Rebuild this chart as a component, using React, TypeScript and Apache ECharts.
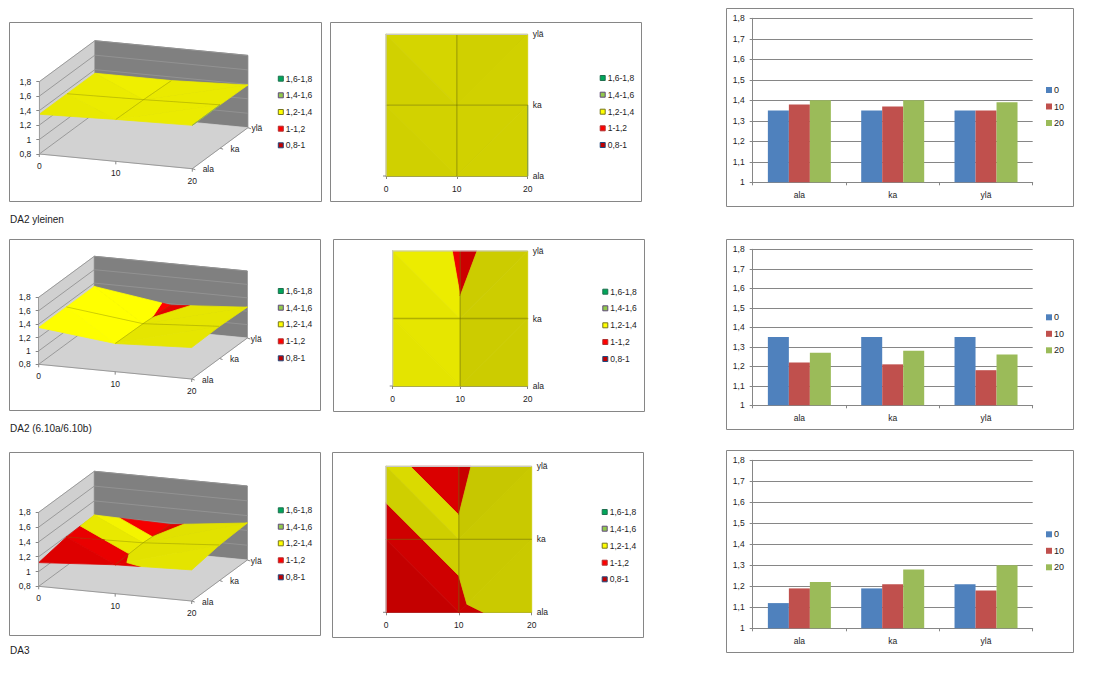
import React, { useEffect, useRef } from "react";
import * as echarts from "echarts";

const rowNames = ["ala", "ka", "ylä"];
const xTicks = [0, 10, 20];
const captions = ["DA2 yleinen", "DA2 (6.10a/6.10b)", "DA3"];
const bandNames = ["1,6-1,8", "1,4-1,6", "1,2-1,4", "1-1,2", "0,8-1"];
const bandLimits = [0.8, 1, 1.2, 1.4, 1.6, 1.8];
const seriesNames = ["0", "10", "20"];

// values per row (ala, ka, ylä) for load 0, 10, 20
const general0 = [1.35, 1.35, 1.35];
const general10 = [1.38, 1.37, 1.35];
const general20 = [1.4, 1.4, 1.39];
const fig610_0 = [1.35, 1.35, 1.35];
const fig610_10 = [1.22, 1.21, 1.18];
const fig610_20 = [1.27, 1.28, 1.26];
const da3_0 = [1.12, 1.19, 1.21];
const da3_10 = [1.19, 1.21, 1.18];
const da3_20 = [1.22, 1.28, 1.3];

const tables = [
  [general0, general10, general20],
  [fig610_0, fig610_10, fig610_20],
  [da3_0, da3_10, da3_20],
];

const FONT = "'Liberation Sans', Arial, sans-serif";
const TXT = "#1c1c24";
const FRAME = "#868686";
const barColors = ["#4F81BD", "#C0504D", "#9BBB59"];
const bandRgb = [
  [200, 0, 0], // 0,8-1
  [255, 0, 0], // 1-1,2
  [255, 255, 0], // 1,2-1,4
  [155, 187, 89], // 1,4-1,6
  [0, 166, 90], // 1,6-1,8
];
const legendFill = ["#00A65A", "#92C84C", "#FFFF00", "#FF0000", "#C00000"];
const legendEdge = ["#1F6F4F", "#604A7B", "#76761E", "#B03030", "#1F497D"];

const fmt = (v: number) => String(+(+v).toFixed(1)).replace(".", ",");

// layout per row
const panels3d = [
  { frame: [9.5, 22.5, 312, 179], fl: [39.3, 154], h: 72.3, legendY: [78.7, 95.3, 112, 128.7, 145.3] },
  { frame: [9.5, 239.5, 311, 171], fl: [38.7, 364.3], h: 67, legendY: [291, 307.7, 324.3, 341.3, 358.3] },
  { frame: [9.5, 452.5, 311, 183], fl: [38.7, 586.3], h: 74, legendY: [510.3, 526.7, 543.3, 560.3, 577.3] },
];
const panels2d = [
  { frame: [330.5, 22.5, 311, 179], g: [386, 34.3, 141.7, 141.7], lx: 599.7, legendY: [78, 94.7, 111.7, 128.3, 145] },
  { frame: [333.5, 239.5, 311, 172], g: [392.7, 251, 135, 135], lx: 602.3, legendY: [291.7, 308.3, 325.3, 342, 359] },
  { frame: [332.5, 452.5, 311, 185], g: [386, 466.3, 145.7, 146], lx: 601.7, legendY: [512, 528.7, 545.7, 562.7, 579.3] },
];
const panelsBar = [
  { frame: [726.5, 8.5, 347, 198], g: [752.7, 18.3, 280, 164], ly: 85.5 },
  { frame: [726.5, 239.5, 347, 190], g: [752.7, 249.3, 280, 156], ly: 312.8 },
  { frame: [726.5, 450.5, 347, 202], g: [752.7, 460.3, 280, 168], ly: 529.8 },
];
const EX_DROP = 14.7; // screen drop of the floor from x=0 to x=20
const DEPTH_DX = 27.8; // screen shift per row
const DEPTH_DY = -20.5;
const depthLabelDx = [16, 15, 9];

type V = [number, number, number];

function clipBand(tri: V[], lo: number, hi: number): V[] {
  const clip = (pts: V[], keep: (v: number) => boolean, lim: number) => {
    const out: V[] = [];
    pts.forEach((p, i) => {
      const q = pts[(i + 1) % pts.length];
      const a = keep(p[2]);
      const b = keep(q[2]);
      if (a) out.push(p);
      if (a !== b) {
        const t = (lim - p[2]) / (q[2] - p[2]);
        out.push([p[0] + t * (q[0] - p[0]), p[1] + t * (q[1] - p[1]), lim]);
      }
    });
    return out;
  };
  const a = clip(tri, (v) => v >= lo, lo);
  if (a.length < 3) return [];
  return clip(a, (v) => v <= hi, hi);
}

function facets(t: number[][]) {
  const val = (c: number, r: number): V => [c * 10, r, t[c][r]];
  const tris: V[][] = [];
  for (let r = 1; r >= 0; r--) {
    for (let c = 0; c < 2; c++) {
      if (c === 0) {
        tris.push([val(c + 1, r + 1), val(c, r + 1), val(c + 1, r)]);
        tris.push([val(c, r), val(c + 1, r), val(c, r + 1)]);
      } else {
        tris.push([val(c, r), val(c + 1, r + 1), val(c, r + 1)]);
        tris.push([val(c, r), val(c + 1, r), val(c + 1, r + 1)]);
      }
    }
  }
  const polys: { pts: V[]; band: number; shade: number }[] = [];
  tris.forEach((tri) => {
    const [p, q, s] = tri;
    const ux = (q[0] - p[0]) / 10, ur = q[1] - p[1], uv = q[2] - p[2];
    const wx = (s[0] - p[0]) / 10, wr = s[1] - p[1], wv = s[2] - p[2];
    const det = ux * wr - ur * wx;
    const gx = (uv * wr - ur * wv) / det;
    const gy = (ux * wv - uv * wx) / det;
    const shade = 0.83 - 0.5 * gx - 0.35 * gy;
    for (let b = 0; b < bandLimits.length - 1; b++) {
      const pts = clipBand(tri, bandLimits[b], bandLimits[b + 1]);
      if (pts.length >= 3) polys.push({ pts, band: b, shade });
    }
  });
  return polys;
}

const shadeColor = (band: number, s: number) => {
  const k = Math.min(1, s);
  const [r, g, b] = bandRgb[band];
  return `rgb(${Math.round(r * k)},${Math.round(g * k)},${Math.round(b * k)})`;
};

function meshLines(t: number[][]) {
  const lines: V[][] = [];
  lines.push([0, 1, 2].map((r) => [10, r, t[1][r]] as V));
  lines.push([0, 1, 2].map((c) => [c * 10, 1, t[c][1]] as V));
  return lines;
}

const textEl = (text: string, x: number, y: number, align = "center", size = 8.5) => ({
  type: "text",
  style: { text, x, y, textAlign: align, textVerticalAlign: "middle", fontSize: size, fontFamily: FONT, fill: TXT },
});

function render3d(t: number[][]) {
  const polys = facets(t);
  const mesh = meshLines(t);
  return (_p: any, api: any) => {
    const P = (x: number, r: number, v: number): number[] => {
      const c = api.coord([x, v]);
      return [c[0] + r * DEPTH_DX, c[1] + (x / 20) * EX_DROP + r * DEPTH_DY];
    };
    const poly = (pts: number[][], fill: string) => ({
      type: "polygon",
      shape: { points: pts },
      style: { fill, stroke: fill, lineWidth: 0.8 },
    });
    const line = (a: number[], b: number[], stroke: string, lineWidth = 1) => ({
      type: "line",
      shape: { x1: a[0], y1: a[1], x2: b[0], y2: b[1] },
      style: { stroke, lineWidth },
    });
    const kids: any[] = [];
    kids.push(poly([P(0, 0, 0.8), P(0, 0, 1.8), P(0, 2, 1.8), P(0, 2, 0.8)], "#D0D0D0"));
    kids.push(poly([P(0, 2, 0.8), P(0, 2, 1.8), P(20, 2, 1.8), P(20, 2, 0.8)], "#808080"));
    kids.push(poly([P(0, 0, 0.8), P(20, 0, 0.8), P(20, 2, 0.8), P(0, 2, 0.8)], "#D2D2D2"));
    [0.8, 1, 1.2, 1.4, 1.6, 1.8].forEach((v) => {
      kids.push(line(P(0, 0, v), P(0, 2, v), "#9A9A9A"));
      if (v > 0.8) kids.push(line(P(0, 2, v), P(20, 2, v), "#929292"));
    });
    kids.push(line(P(0, 0, 0.8), P(20, 0, 0.8), "#9A9A9A"));
    kids.push(line(P(20, 0, 0.8), P(20, 2, 0.8), "#9A9A9A"));
    polys.forEach((f) => {
      kids.push(poly(f.pts.map((q) => P(q[0], q[1], q[2])), shadeColor(f.band, f.shade + 0.1)));
    });
    mesh.forEach((m) => {
      kids.push({
        type: "polyline",
        shape: { points: m.map((q) => P(q[0], q[1], q[2])) },
        style: { stroke: "rgba(110,110,0,0.4)", lineWidth: 0.8, fill: "none" },
      });
    });
    xTicks.forEach((x) => {
      const a = P(x, 0, 0.8);
      kids.push(line(a, [a[0], a[1] + 3], "#868686"));
      kids.push(textEl(String(x), a[0], a[1] + 12));
    });
    rowNames.forEach((n, r) => {
      const a = P(20, r, 0.8);
      kids.push(line(a, [a[0] + 3, a[1] + 1], "#868686"));
      kids.push(textEl(n, a[0] + depthLabelDx[r], a[1] + 0.5));
    });
    return { type: "group", children: kids };
  };
}

function render2d(t: number[][]) {
  const polys = facets(t);
  const mesh = meshLines(t);
  return (_p: any, api: any) => {
    const kids: any[] = [];
    polys.forEach((f) => {
      const fill = shadeColor(f.band, f.shade);
      kids.push({
        type: "polygon",
        shape: { points: f.pts.map((q) => api.coord([q[0], q[1]])) },
        style: { fill, stroke: fill, lineWidth: 0.8 },
      });
    });
    mesh.forEach((m) => {
      kids.push({
        type: "polyline",
        shape: { points: m.map((q) => api.coord([q[0], q[1]])) },
        style: { stroke: "rgba(110,110,0,0.45)", lineWidth: 1.3, fill: "none" },
      });
    });
    const a = api.coord([0, 0]), b = api.coord([0, 2]), c = api.coord([20, 2]);
    kids.push({ type: "polyline", shape: { points: [a, b, c] }, style: { stroke: "#C8C8C8", lineWidth: 1.2, fill: "none" } });
    kids.push({ type: "line", shape: { x1: a[0] - 3, y1: a[1], x2: a[0], y2: a[1] }, style: { stroke: "#868686", lineWidth: 1 } });
    return { type: "group", children: kids };
  };
}

function buildOption() {
  const grid: any[] = [], xAxis: any[] = [], yAxis: any[] = [], series: any[] = [], legend: any[] = [], graphic: any[] = [];
  const axisStyle = { lineStyle: { color: FRAME, width: 1 } };
  const labelStyle = { fontSize: 8.5, fontFamily: FONT, color: TXT };
  const addGrid = (g: number[]) => {
    grid.push({ left: g[0], top: g[1], width: g[2], height: g[3] });
    return grid.length - 1;
  };
  const frame = (f: number[]) =>
    graphic.push({ type: "rect", shape: { x: f[0], y: f[1], width: f[2], height: f[3] }, style: { fill: "none", stroke: FRAME, lineWidth: 1 }, silent: true });
  const surfaceLegend = (lx: number, ys: number[]) => {
    bandNames.forEach((n, i) => {
      graphic.push({
        type: "rect",
        shape: { x: lx + 0.5, y: ys[i] - 2.5, width: 5, height: 5 },
        style: { fill: legendFill[i], stroke: legendEdge[i], lineWidth: 1 },
        silent: true,
      });
      graphic.push({
        type: "text",
        style: { text: n, x: lx + 8, y: ys[i], textVerticalAlign: "middle", fontSize: 8.5, fontFamily: FONT, fill: TXT },
        silent: true,
      });
    });
  };

  tables.forEach((t, row) => {
    // 3D surface
    const p3 = panels3d[row];
    frame(p3.frame);
    surfaceLegend(277.8, p3.legendY);
    let gi = addGrid([p3.fl[0], p3.fl[1] - p3.h, 153, p3.h]);
    xAxis.push({ gridIndex: gi, type: "value", min: 0, max: 20, show: false });
    yAxis.push({
      gridIndex: gi, type: "value", min: 0.8, max: 1.8, interval: 0.2, z: 5,
      axisLine: { show: true, lineStyle: { color: "#A0A0A0", width: 1 } }, axisTick: { show: true, length: 3, ...axisStyle },
      splitLine: { show: false }, axisLabel: { ...labelStyle, margin: 8, formatter: fmt },
    });
    series.push({ type: "custom", xAxisIndex: gi, yAxisIndex: gi, data: [[0, 0.8]], renderItem: render3d(t), silent: true, z: 1 });

    // contour
    const p2 = panels2d[row];
    frame(p2.frame);
    surfaceLegend(p2.lx, p2.legendY);
    gi = addGrid(p2.g);
    xAxis.push({
      gridIndex: gi, type: "value", min: 0, max: 20, interval: 10,
      axisLine: { show: true, ...axisStyle }, axisTick: { show: true, length: 3, ...axisStyle },
      splitLine: { show: false }, axisLabel: { ...labelStyle, margin: 8 },
    });
    yAxis.push({
      gridIndex: gi, type: "value", min: 0, max: 2, interval: 1, position: "right",
      axisLine: { show: true, ...axisStyle }, axisTick: { show: true, length: 3, ...axisStyle },
      splitLine: { show: false },
      axisLabel: { ...labelStyle, margin: 5, formatter: (v: number) => rowNames[v] },
    });
    series.push({ type: "custom", xAxisIndex: gi, yAxisIndex: gi, data: [[0, 0]], renderItem: render2d(t), silent: true, z: 1 });

    // bars
    const pb = panelsBar[row];
    frame(pb.frame);
    gi = addGrid(pb.g);
    xAxis.push({
      gridIndex: gi, type: "category", data: rowNames,
      axisLine: { show: true, ...axisStyle }, axisTick: { show: true, length: 3, alignWithLabel: false, ...axisStyle },
      axisLabel: { ...labelStyle, margin: 8 },
    });
    yAxis.push({
      gridIndex: gi, type: "value", min: 1, max: 1.8, interval: 0.1,
      axisLine: { show: true, ...axisStyle }, axisTick: { show: true, length: 3, ...axisStyle },
      splitLine: { show: true, lineStyle: { color: FRAME, width: 1 } },
      axisLabel: { ...labelStyle, margin: 8, formatter: fmt },
    });
    t.forEach((vals, c) => {
      series.push({
        type: "bar", name: seriesNames[c], xAxisIndex: gi, yAxisIndex: gi, data: vals,
        barWidth: 21, barGap: "0%", itemStyle: { color: barColors[c] }, silent: true,
      });
    });
    legend.push({
      data: seriesNames, orient: "vertical", left: 1046, top: pb.ly, itemWidth: 6, itemHeight: 6, itemGap: 7.5,
      icon: "rect", selectedMode: false, padding: 0,
      textStyle: { fontSize: 9, fontFamily: FONT, color: TXT, padding: [0, 0, 0, -3] },
    });

    graphic.push({
      type: "text",
      style: { text: captions[row], x: 10, y: [219, 428.3, 650.7][row], textVerticalAlign: "middle", fontSize: 10, fontFamily: FONT, fill: TXT },
      silent: true,
    });
  });
  return { animation: false, backgroundColor: "#fff", grid, xAxis, yAxis, series, legend, graphic };
}

export default function App() {
  const ref = useRef<HTMLDivElement>(null);
  useEffect(() => {
    document.body.style.margin = "0";
    const chart = echarts.init(ref.current!, undefined, { renderer: "svg" });
    chart.setOption(buildOption() as any);
    return () => chart.dispose();
  }, []);
  return <div ref={ref} style={{ width: 1112, height: 673 }} />;
}
